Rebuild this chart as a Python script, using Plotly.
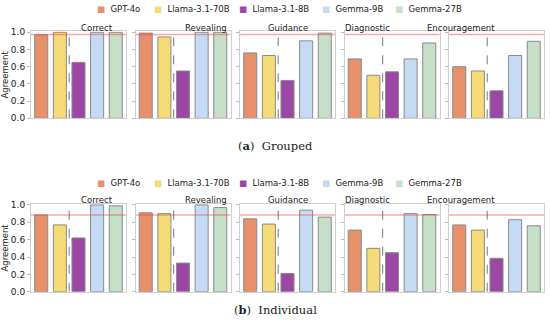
import plotly.graph_objects as go

models = ["GPT-4o", "Llama-3.1-70B", "Llama-3.1-8B", "Gemma-9B", "Gemma-27B"]
colors = ["#E8906A", "#F5DA78", "#9A48A4", "#C5DBF5", "#C6DFC9"]
categories = ["Correct", "Revealing", "Guidance", "Diagnostic", "Encouragement"]

grouped = {
    "GPT-4o":        [0.97, 0.99, 0.76, 0.69, 0.60],
    "Llama-3.1-70B": [1.00, 0.945, 0.73, 0.50, 0.55],
    "Llama-3.1-8B":  [0.65, 0.55, 0.44, 0.54, 0.32],
    "Gemma-9B":      [1.00, 1.00, 0.90, 0.69, 0.73],
    "Gemma-27B":     [1.00, 1.00, 0.99, 0.875, 0.895],
}
individual = {
    "GPT-4o":        [0.885, 0.91, 0.84, 0.71, 0.77],
    "Llama-3.1-70B": [0.77, 0.90, 0.78, 0.50, 0.71],
    "Llama-3.1-8B":  [0.62, 0.33, 0.21, 0.45, 0.385],
    "Gemma-9B":      [1.00, 1.00, 0.94, 0.90, 0.83],
    "Gemma-27B":     [0.99, 0.97, 0.86, 0.89, 0.76],
}
human_ref = {"grouped": 0.975, "individual": 0.885}
ytick_vals = [0.0, 0.2, 0.4, 0.6, 0.8, 1.0]
ytick_text = ["0.0", "0.2", "0.4", "0.6", "0.8", "1.0"]

W, H = 550, 330
fig = go.Figure()

panel_left = [31, 135.5, 240, 344.5, 449]
panel_w = 95
legend_x = [95, 152, 237, 320, 393]
rows = [
    ("grouped", grouped, 31.4, 118.3, 9, "(<b>a</b>)  Grouped", 145.5, 27.5),
    ("individual", individual, 204.1, 291.7, 183, "(<b>b</b>)  Individual", 318.5, 200),
]

ax = 0
for r, (key, data, ytop, ybot, legy, caption, capy, titley) in enumerate(rows):
    for c, cat in enumerate(categories):
        ax += 1
        xname = "x" if ax == 1 else f"x{ax}"
        yname = "y" if ax == 1 else f"y{ax}"
        xl = "xaxis" if ax == 1 else f"xaxis{ax}"
        yl = "yaxis" if ax == 1 else f"yaxis{ax}"
        for m_i, m in enumerate(models):
            fig.add_trace(go.Bar(
                x=[m_i], y=[data[m][c]], name=m, xaxis=xname, yaxis=yname,
                marker=dict(color=colors[m_i], line=dict(color="#8a8a8a", width=1)),
                width=0.7, showlegend=False,
            ))
        # human reference line
        fig.add_trace(go.Scatter(
            x=[-0.6, 4.6], y=[human_ref[key]] * 2, mode="lines", xaxis=xname, yaxis=yname,
            line=dict(color="rgba(255,60,60,0.45)", width=1.5), showlegend=False, hoverinfo="skip",
        ))
        # dashed separator
        fig.add_trace(go.Scatter(
            x=[1.5, 1.5], y=[0, 1.01], mode="lines", xaxis=xname, yaxis=yname,
            line=dict(color="#777777", width=1, dash="dash"), showlegend=False, hoverinfo="skip",
        ))
        x0 = panel_left[c] / W
        x1 = (panel_left[c] + panel_w) / W
        fig.layout[xl] = dict(domain=[x0, x1], range=[-0.55, 4.55], showticklabels=False,
                              showgrid=False, zeroline=False, showline=True, mirror=True,
                              linecolor="#cfcfcf", linewidth=1, ticks="", anchor=yname)
        fig.layout[yl] = dict(domain=[1 - ybot / H, 1 - ytop / H], range=[0, 1.01],
                              tickvals=ytick_vals, ticktext=ytick_text,
                              showticklabels=(c == 0), showgrid=False, zeroline=False,
                              showline=True, mirror=True, linecolor="#cfcfcf", linewidth=1,
                              ticks="outside", ticklen=3, tickcolor="#bbbbbb",
                              tickfont=dict(size=9, color="#222"), anchor=xname,
                              title=dict(text="Agreement", font=dict(size=8.5, color="#222"),
                                         standoff=2) if c == 0 else None)
        fig.add_annotation(x=(panel_left[c] + panel_w / 2) / W, y=1 - titley / H,
                           xref="paper", yref="paper", text=cat, showarrow=False,
                           font=dict(size=8.5, color="#222"), yanchor="middle")
    # legend row
    for m_i, m in enumerate(models):
        fig.add_annotation(x=legend_x[m_i] / W, y=1 - legy / H, xref="paper", yref="paper",
                           text=f'<span style="color:{colors[m_i]}">■</span>  {m}',
                           showarrow=False, xanchor="left", yanchor="middle",
                           font=dict(size=8.5, color="#222"))
    fig.add_annotation(x=0.5, y=1 - capy / H, xref="paper", yref="paper", text=caption,
                       showarrow=False, font=dict(family="DejaVu Serif", size=11.5, color="#222"))

fig.update_layout(
    width=W, height=H, margin=dict(l=0, r=0, t=0, b=0, autoexpand=False),
    plot_bgcolor="white", paper_bgcolor="white", barmode="overlay",
    font=dict(family="DejaVu Sans", size=8, color="#222"),
    showlegend=False,
)
fig.write_html("out.html", config={"displayModeBar": False},
               post_script="document.body.style.margin='0';document.body.style.overflow='hidden';")
